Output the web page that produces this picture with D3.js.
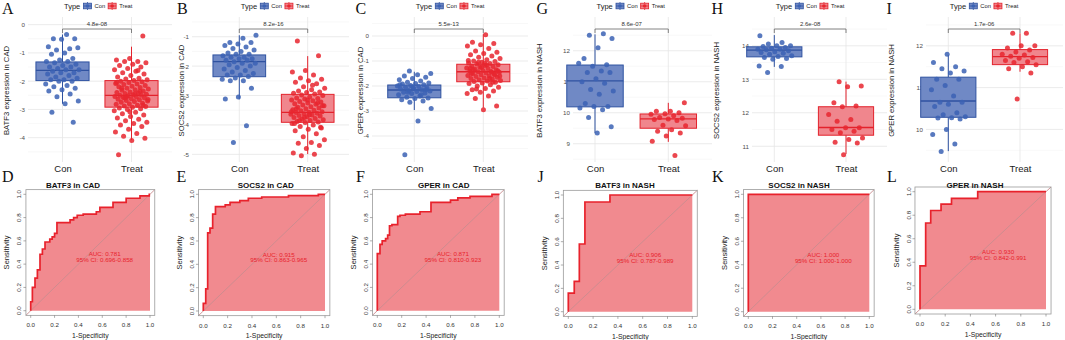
<!DOCTYPE html>
<html><head><meta charset="utf-8">
<script src="https://cdn.jsdelivr.net/npm/d3@7"></script>
<style>body{margin:0;background:#fff}svg{display:block;font-family:"Liberation Sans",Arial,sans-serif}</style>
</head><body><svg id="c" width="1065" height="340"></svg>
<script>
// ---------------- DATA ----------------
const groups = ["Con", "Treat"];
const boxGenes = ["BATF3", "SOCS2", "GPER", "BATF3", "SOCS2", "GPER"];
const boxDatasets = ["CAD", "CAD", "CAD", "NASH", "NASH", "NASH"];
const pValues = ["4.8e-08", "8.2e-16", "5.5e-13", "8.6e-07", "2.6e-08", "1.7e-06"];
const yTicks = [[0,-1,-2,-3,-4],[-1,-2,-3,-4,-5],[0,-1,-2,-3,-4],[9,10,11,12],[11,12,13,14],[10,11,12]];
const yDomains = [[-4.86,0.27],[-5.26,-0.33],[-5.04,0.76],[8.41,13.09],[10.53,14.86],[9.22,12.69]];
// box stats: [lower whisker, Q1, median, Q3, upper whisker]
const conBoxStats = [[-2.8,-1.98,-1.62,-1.32,-0.35],[-3.13,-2.36,-1.85,-1.62,-0.95],[-2.96,-2.47,-2.16,-1.96,-1.43],[9.34,10.19,11.03,11.54,12.53],[13.37,13.67,13.87,13.97,14.32],[9.48,10.29,10.68,11.25,11.78]];
const treatBoxStats = [[-4.08,-2.92,-2.5,-1.98,-0.78],[-4.99,-3.91,-3.57,-2.96,-1.66],[-2.87,-1.83,-1.43,-1.13,0.07],[9.06,9.5,9.8,9.96,10.32],[10.77,11.33,11.56,12.18,12.93],[11.38,11.55,11.74,11.91,12.3]];

const batf3CadCon = [-0.35,-0.5,-0.5,-0.52,-0.78,-0.85,-0.9,-0.82,-1.0,-1.05,-1.2,-1.25,-1.3,-1.3,-1.35,-1.4,-1.45,-1.5,-1.5,-1.55,-1.6,-1.6,-1.65,-1.7,-1.7,-1.75,-1.8,-1.85,-1.9,-1.95,-1.95,-2.0,-2.0,-2.1,-2.15,-2.2,-2.25,-2.3,-2.35,-2.45,-2.55,-2.7,-2.8,-3.1,-3.45];
const batf3CadTreat = [-0.40,-1.20,-1.25,-1.30,-1.30,-1.35,-1.40,-1.45,-1.50,-1.55,-1.60,-1.65,-1.70,-1.75,-1.80,-1.85,-1.90,-1.92,-1.95,-1.98,-2.00,-2.02,-2.05,-2.08,-2.10,-2.12,-2.15,-2.18,-2.20,-2.22,-2.25,-2.28,-2.30,-2.32,-2.35,-2.38,-2.40,-2.42,-2.44,-2.46,-2.48,-2.50,-2.50,-2.52,-2.54,-2.56,-2.58,-2.60,-2.62,-2.64,-2.66,-2.68,-2.70,-2.72,-2.75,-2.78,-2.80,-2.82,-2.85,-2.88,-2.90,-2.92,-2.95,-2.98,-3.00,-3.05,-3.10,-3.15,-3.20,-3.25,-3.30,-3.35,-3.40,-3.45,-3.50,-3.55,-3.60,-3.70,-3.80,-3.85,-3.95,-4.02,-4.10,-4.60,-2.36,-2.55,-2.65,-2.45,-2.25,-2.85,-3.08,-2.05,-1.62,-2.6];
const socs2CadCon = [-0.95,-1.05,-1.2,-1.2,-1.25,-1.3,-1.35,-1.4,-1.45,-1.5,-1.55,-1.6,-1.6,-1.65,-1.7,-1.7,-1.75,-1.75,-1.8,-1.8,-1.85,-1.9,-1.9,-1.95,-2.0,-2.05,-2.1,-2.15,-2.2,-2.25,-2.3,-2.3,-2.35,-2.4,-2.45,-2.5,-2.5,-2.75,-3.05,-3.12,-4.03,-4.6];
const socs2CadTreat = [-1.15,-1.65,-2.15,-2.20,-2.30,-2.40,-2.45,-2.50,-2.55,-2.60,-2.70,-2.75,-2.80,-2.85,-2.88,-2.90,-2.92,-2.95,-2.98,-3.00,-3.05,-3.08,-3.10,-3.12,-3.15,-3.18,-3.20,-3.22,-3.25,-3.28,-3.30,-3.32,-3.35,-3.38,-3.40,-3.42,-3.45,-3.48,-3.50,-3.52,-3.55,-3.57,-3.58,-3.60,-3.62,-3.64,-3.66,-3.68,-3.70,-3.72,-3.75,-3.78,-3.80,-3.82,-3.85,-3.88,-3.90,-3.92,-3.95,-4.00,-4.05,-4.10,-4.15,-4.20,-4.30,-4.40,-4.50,-4.60,-4.62,-4.70,-4.80,-4.95,-5.00,-5.05,-3.35,-3.65,-3.45,-3.25,-3.75,-3.55,-2.65,-3.85,-4.08,-3.15,-3.95];
const gperCadCon = [-1.40,-1.50,-1.55,-1.60,-1.65,-1.70,-1.75,-1.80,-1.85,-1.88,-1.90,-1.92,-1.95,-1.98,-2.00,-2.02,-2.05,-2.08,-2.10,-2.12,-2.15,-2.18,-2.20,-2.22,-2.25,-2.28,-2.30,-2.35,-2.40,-2.45,-2.48,-2.50,-2.55,-2.60,-2.65,-2.90,-3.40,-4.75,-2.15,-2.05,-1.95,-2.35,-2.25];
const gperCadTreat = [0.05,-0.25,-0.30,-0.35,-0.40,-0.50,-0.60,-0.65,-0.70,-0.75,-0.80,-0.85,-0.90,-0.95,-1.00,-1.02,-1.05,-1.08,-1.10,-1.12,-1.15,-1.18,-1.20,-1.22,-1.25,-1.28,-1.30,-1.32,-1.35,-1.38,-1.40,-1.42,-1.43,-1.45,-1.48,-1.50,-1.52,-1.55,-1.58,-1.60,-1.62,-1.65,-1.68,-1.70,-1.72,-1.75,-1.78,-1.80,-1.82,-1.85,-1.88,-1.90,-1.95,-2.00,-2.05,-2.10,-2.15,-2.20,-2.25,-2.30,-2.40,-2.50,-2.80,-2.95,-1.30,-1.45,-1.05,-1.60,-1.15,-1.35,-1.55,-1.25,-0.98,-1.70,-2.12,-1.40,-1.10,-1.50,-1.85];
const batf3NashCon = [12.55,12.5,12.4,12.1,11.75,11.55,11.5,11.6,11.35,11.3,11.3,11.1,11.0,10.95,10.75,10.7,10.6,10.3,10.2,10.2,10.15,10.1,9.85,9.55,9.35];
const batf3NashTreat = [10.32,10.05,10.05,10.0,9.97,9.95,9.9,9.85,9.82,9.8,9.78,9.75,9.6,9.58,9.45,9.4,9.35,9.25,9.08,8.62];
const socs2NashCon = [14.3,14.1,14.05,14.0,14.0,13.98,13.95,13.93,13.9,13.9,13.88,13.85,13.82,13.8,13.78,13.75,13.7,13.68,13.65,13.62,13.6,13.4,13.38,13.2];
const socs2NashTreat = [12.93,12.8,12.78,12.3,12.2,12.18,11.95,11.8,11.75,11.55,11.55,11.5,11.45,11.4,11.25,11.2,11.12,11.1,10.75];
const gperNashCon = [11.8,11.6,11.5,11.45,11.4,11.35,11.2,11.2,11.05,10.95,10.8,10.65,10.65,10.6,10.55,10.4,10.35,10.3,10.28,10.27,10.25,10.0,9.88,9.65,9.47];
const gperNashTreat = [12.3,12.3,12.0,12.0,11.95,11.9,11.85,11.8,11.78,11.75,11.72,11.7,11.65,11.62,11.6,11.55,11.5,11.45,11.35,10.73];

// ROC curves: [1-specificity, sensitivity] (step vertices)
const rocBatf3Cad = [[0,0],[0,0.077],[0.014,0.2],[0.036,0.28],[0.056,0.35],[0.078,0.485],[0.098,0.53],[0.12,0.59],[0.16,0.615],[0.18,0.635],[0.2,0.665],[0.22,0.756],[0.33,0.78],[0.36,0.80],[0.39,0.82],[0.44,0.83],[0.55,0.85],[0.58,0.888],[0.69,0.93],[0.8,0.966],[0.916,0.986],[0.994,1],[1,1]];
const rocSocs2Cad = [[0,0],[0,0.066],[0.02,0.19],[0.036,0.67],[0.055,0.71],[0.077,0.83],[0.1,0.894],[0.18,0.91],[0.22,0.93],[0.3,0.946],[0.37,0.966],[0.48,0.977],[0.7,0.989],[0.945,1],[1,1]];
const rocGperCad = [[0,0],[0,0.49],[0.022,0.57],[0.04,0.6],[0.068,0.62],[0.085,0.65],[0.1,0.73],[0.12,0.74],[0.167,0.81],[0.186,0.82],[0.23,0.83],[0.35,0.85],[0.44,0.93],[0.6,0.95],[0.66,0.97],[0.76,0.983],[0.94,1],[1,1]];
const rocBatf3Nash = [[0,0],[0,0.16],[0.048,0.26],[0.089,0.58],[0.134,0.94],[0.336,1],[1,1]];
const rocSocs2Nash = [[0,0],[0,1],[1,1]];
const rocGperNash = [[0,0],[0,0.37],[0.045,0.734],[0.085,0.84],[0.167,0.894],[0.25,0.944],[0.458,1],[1,1]];
const aucValues = ["0.781", "0.915", "0.871", "0.906", "1.000", "0.930"];
const ciLabels = ["0.696-0.858", "0.863-0.965", "0.810-0.923", "0.787-0.989", "1.000-1.000", "0.842-0.991"];
const xTicksRoc = [0, 0.2, 0.4, 0.6, 0.8, 1.0];

// ---------------- DRAW ----------------
const boxSeries = [
  [batf3CadCon, batf3CadTreat], [socs2CadCon, socs2CadTreat], [gperCadCon, gperCadTreat],
  [batf3NashCon, batf3NashTreat], [socs2NashCon, socs2NashTreat], [gperNashCon, gperNashTreat]
];
const rocCurves = [rocBatf3Cad, rocSocs2Cad, rocGperCad, rocBatf3Nash, rocSocs2Nash, rocGperNash];

const svg = d3.select("#c");
svg.append("rect").attr("width", 1065).attr("height", 340).attr("fill", "#fff");

const colPoint = {Con: "#3B62B4", Treat: "#E8262F"};
const colFill = {Con: "#7089C5", Treat: "#F0868D"};
const colStroke = {Con: "#2F52A0", Treat: "#E3222C"};

const topPanels = [
  {x0: 28, x1: 172, letter: "A", letterX: 2, titleX: 6.5},
  {x0: 192, x1: 349, letter: "B", letterX: 177, titleX: 181},
  {x0: 372, x1: 528, letter: "C", letterX: 355.5, titleX: 360},
  {x0: 573, x1: 712, letter: "G", letterX: 536.5, titleX: 539.5},
  {x0: 752, x1: 887, letter: "H", letterX: 711.5, titleX: 716.5},
  {x0: 926, x1: 1063, letter: "I", letterX: 886.5, titleX: 891}
];
const catPos = [[62.5, 131.5], [239.3, 307.7], [414.3, 483.3], [595, 668.3], [774.3, 846], [948.3, 1020]];
const pTop = 17, pBot = 162;

topPanels.forEach((P, i) => {
  const g = svg.append("g");
  const y = d3.scaleLinear().domain(yDomains[i]).range([pBot, pTop]);
  const x = d3.scalePoint().domain(groups).range(catPos[i]);
  const sp = catPos[i][1] - catPos[i][0];
  const dom = yDomains[i];
  // minor grid
  const minors = [];
  yTicks[i].forEach(t => { [t - 0.5, t + 0.5].forEach(m => { if (m > dom[0] && m < dom[1] && !minors.includes(m)) minors.push(m); }); });
  g.selectAll(".mn").data(minors).enter().append("line")
    .attr("x1", P.x0).attr("x2", P.x1).attr("y1", d => y(d)).attr("y2", d => y(d))
    .attr("stroke", "#F3F3F3").attr("stroke-width", 0.6);
  g.selectAll(".mj").data(yTicks[i]).enter().append("line")
    .attr("x1", P.x0).attr("x2", P.x1).attr("y1", d => y(d)).attr("y2", d => y(d))
    .attr("stroke", "#E6E6E6").attr("stroke-width", 0.8);
  g.selectAll(".vg").data(groups).enter().append("line")
    .attr("x1", d => x(d)).attr("x2", d => x(d)).attr("y1", pTop).attr("y2", pBot)
    .attr("stroke", "#E6E6E6").attr("stroke-width", 0.8);

  // y axis
  const ya = g.append("g").attr("transform", `translate(${P.x0},0)`)
    .call(d3.axisLeft(y).tickValues(yTicks[i]).tickSize(0).tickPadding(3).tickFormat(d => String(d)));
  ya.select(".domain").remove();
  ya.selectAll("text").attr("font-size", 6.2).attr("fill", "#4D4D4D").attr("font-family", "Liberation Sans, Arial");
  // x axis
  const xa = g.append("g").attr("transform", `translate(0,${pBot})`)
    .call(d3.axisBottom(x).tickSize(0).tickPadding(3));
  xa.select(".domain").remove();
  xa.selectAll("text").attr("font-size", 9.5).attr("fill", "#1A1A1A").attr("font-family", "Liberation Sans, Arial");

  // y title
  g.append("text").attr("transform", `translate(${P.titleX},${(pTop + pBot) / 2 + 1}) rotate(-90)`)
    .attr("text-anchor", "middle").attr("dy", "0.35em").attr("font-size", 7.7).attr("fill", "#1A1A1A")
    .text(`${boxGenes[i]} expression in ${boxDatasets[i]}`);

  // boxes
  const stats = [conBoxStats[i], treatBoxStats[i]];
  const bw = 0.77 * sp;
  groups.forEach((grp, k) => {
    const s = stats[k], cx = x(grp);
    g.append("line").attr("x1", cx).attr("x2", cx).attr("y1", y(s[0])).attr("y2", y(s[1]))
      .attr("stroke", colStroke[grp]).attr("stroke-width", 1);
    g.append("line").attr("x1", cx).attr("x2", cx).attr("y1", y(s[3])).attr("y2", y(s[4]))
      .attr("stroke", colStroke[grp]).attr("stroke-width", 1);
    g.append("rect").attr("x", cx - bw / 2).attr("width", bw).attr("y", y(s[3])).attr("height", y(s[1]) - y(s[3]))
      .attr("fill", colFill[grp]).attr("stroke", colStroke[grp]).attr("stroke-width", 1);
    g.append("line").attr("x1", cx - bw / 2).attr("x2", cx + bw / 2).attr("y1", y(s[2])).attr("y2", y(s[2]))
      .attr("stroke", colStroke[grp]).attr("stroke-width", 1.3);
  });
  // jitter points
  groups.forEach((grp, k) => {
    const vals = boxSeries[i][k];
    const jw = 0.25 * sp;
    g.selectAll(null).data(vals).enter().append("circle")
      .attr("cx", (d, j) => x(grp) + ((((j + 1) * 0.6180339887 + i * 0.37 + k * 0.21) % 1) - 0.5) * 2 * jw)
      .attr("cy", d => y(d)).attr("r", 2.5)
      .attr("fill", colPoint[grp]).attr("fill-opacity", 0.85);
  });
  // significance bracket
  const by = 29;
  const cx0 = x("Con"), cx1 = x("Treat");
  g.append("path").attr("d", `M${cx0},${by + 4}V${by}H${cx1}V${by + 4}`)
    .attr("fill", "none").attr("stroke", "#666").attr("stroke-width", 0.8);
  g.append("text").attr("x", (cx0 + cx1) / 2).attr("y", by - 3).attr("text-anchor", "middle")
    .attr("font-size", 6).attr("fill", "#333").text(pValues[i]);

  // legend
  let lx = cx0 + 1.5;
  const ly = 6;
  g.append("text").attr("x", lx).attr("y", ly).attr("dy", "0.35em").attr("font-size", 7.5).attr("fill", "#1A1A1A").text("Type");
  lx += 19.5;
  groups.forEach(grp => {
    const kg = g.append("g");
    kg.append("line").attr("x1", lx + 4).attr("x2", lx + 4).attr("y1", ly - 4).attr("y2", ly + 4).attr("stroke", colStroke[grp]).attr("stroke-width", 0.8);
    kg.append("rect").attr("x", lx).attr("y", ly - 2.8).attr("width", 8).attr("height", 5.6)
      .attr("fill", colFill[grp]).attr("stroke", colStroke[grp]).attr("stroke-width", 0.8);
    kg.append("line").attr("x1", lx).attr("x2", lx + 8).attr("y1", ly).attr("y2", ly).attr("stroke", colStroke[grp]).attr("stroke-width", 0.8);
    kg.append("circle").attr("cx", lx + 4).attr("cy", ly).attr("r", 1.8).attr("fill", colPoint[grp]);
    const t = g.append("text").attr("x", lx + 11).attr("y", ly).attr("dy", "0.35em").attr("font-size", 5.8).attr("fill", "#1A1A1A").text(grp);
    lx += 11 + t.node().getComputedTextLength() + 3;
  });

  // panel letter
  svg.append("text").attr("x", P.letterX).attr("y", 14).attr("font-family", "Liberation Serif, Times New Roman, serif")
    .attr("font-size", 16).attr("fill", "#111").text(P.letter);
});

// ROC panels
const rocPanels = [
  {x0: 30.7, x1: 150, y0: 310.7, y1: 194.3, letter: "D", letterX: 2, titleX: 73},
  {x0: 203.3, x1: 325, y0: 311, y1: 194.3, letter: "E", letterX: 176.5, titleX: 265.8},
  {x0: 377.3, x1: 499.3, y0: 310.7, y1: 194.3, letter: "F", letterX: 356, titleX: 443.7},
  {x0: 568.3, x1: 692.3, y0: 311.7, y1: 195, letter: "J", letterX: 537.5, titleX: 625},
  {x0: 748.3, x1: 869.3, y0: 311.7, y1: 194.3, letter: "K", letterX: 712, titleX: 799},
  {x0: 920, x1: 1046, y0: 309.3, y1: 191.7, letter: "L", letterX: 887, titleX: 975}
];

rocPanels.forEach((P, i) => {
  const g = svg.append("g");
  const x = d3.scaleLinear().domain([0, 1]).range([P.x0, P.x1]);
  const y = d3.scaleLinear().domain([0, 1]).range([P.y0, P.y1]);
  const fL = x(-0.04), fR = x(1.04), fT = y(1.04), fB = y(-0.04);
  const curve = rocCurves[i];
  const area = d3.area().x(d => x(d[0])).y0(y(0)).y1(d => y(d[1])).curve(d3.curveStepAfter);
  g.append("path").datum(curve).attr("d", area).attr("fill", "#F18A8F");
  g.append("line").attr("x1", fL).attr("y1", fB).attr("x2", fR).attr("y2", fT)
    .attr("stroke", "#C98C8E").attr("stroke-width", 0.9);
  const line = d3.line().x(d => x(d[0])).y(d => y(d[1])).curve(d3.curveStepAfter);
  g.append("path").datum(curve).attr("d", line).attr("fill", "none").attr("stroke", "#E8222C").attr("stroke-width", 1.7);
  g.append("rect").attr("x", fL).attr("y", fT).attr("width", fR - fL).attr("height", fB - fT)
    .attr("fill", "none").attr("stroke", "#9A9A9A").attr("stroke-width", 0.8);
  // ticks
  g.selectAll(".xt").data(xTicksRoc).enter().append("line")
    .attr("x1", d => x(d)).attr("x2", d => x(d)).attr("y1", fB).attr("y2", fB + 2.5).attr("stroke", "#777").attr("stroke-width", 0.6);
  g.selectAll(".yt").data(xTicksRoc).enter().append("line")
    .attr("y1", d => y(d)).attr("y2", d => y(d)).attr("x1", fL).attr("x2", fL - 2.5).attr("stroke", "#777").attr("stroke-width", 0.6);
  g.selectAll(".xl").data(xTicksRoc).enter().append("text")
    .attr("x", d => x(d)).attr("y", fB + 12).attr("text-anchor", "middle").attr("font-size", 6.2).attr("fill", "#333")
    .text(d => d.toFixed(1));
  g.selectAll(".yl").data(xTicksRoc).enter().append("text")
    .attr("transform", d => `translate(${P.x0 - 11.5},${y(d)}) rotate(-90)`).attr("dy", "0.35em")
    .attr("text-anchor", "middle").attr("font-size", 6.2).attr("fill", "#333")
    .text(d => d.toFixed(1));
  g.append("text").attr("x", (P.x0 + P.x1) / 2).attr("y", fB + 22.5).attr("text-anchor", "middle")
    .attr("font-size", 6.8).attr("fill", "#222").text("1-Specificity");
  g.append("text").attr("transform", `translate(${P.x0 - 24},${(P.y0 + P.y1) / 2}) rotate(-90)`)
    .attr("dy", "0.35em").attr("text-anchor", "middle").attr("font-size", 7.5).attr("fill", "#222").text("Sensitivity");
  // title
  g.append("text").attr("x", P.titleX).attr("y", 188).attr("text-anchor", "middle")
    .attr("font-size", 8).attr("font-weight", "bold").attr("fill", "#111")
    .text(`${boxGenes[i]} in ${boxDatasets[i]}`);
  // AUC text
  g.append("text").attr("x", x(0.62)).attr("y", y(0.485)).attr("dy", "0.35em").attr("text-anchor", "middle")
    .attr("font-size", 6.2).attr("fill", "#E8222C").text(`AUC: ${aucValues[i]}`);
  g.append("text").attr("x", x(0.62)).attr("y", y(0.435)).attr("dy", "0.35em").attr("text-anchor", "middle")
    .attr("font-size", 6.2).attr("fill", "#E8222C").text(`95% CI: ${ciLabels[i]}`);
  // letter
  svg.append("text").attr("x", P.letterX).attr("y", 182).attr("font-family", "Liberation Serif, Times New Roman, serif")
    .attr("font-size", 16).attr("fill", "#111").text(P.letter);
});
</script>
</body></html>
